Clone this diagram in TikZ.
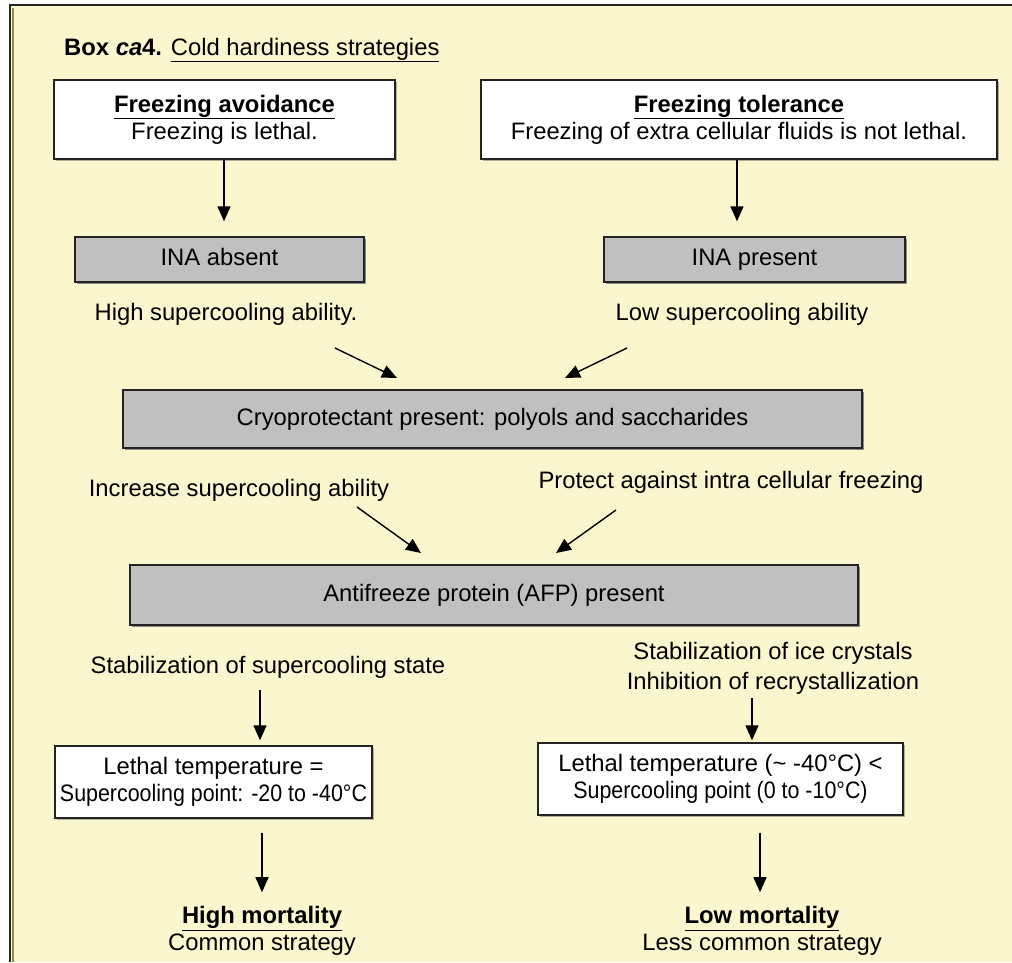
\documentclass[tikz,border=0pt]{standalone}
\usepackage{fontspec}
\setmainfont{Liberation Sans}
\newfontfamily\narrowsans[FakeStretch=0.9]{Liberation Sans}
\usetikzlibrary{arrows.meta, positioning, shadows}

\definecolor{paper}{RGB}{250,246,205}
\definecolor{boxgrey}{RGB}{192,192,192}
\definecolor{edge}{RGB}{35,35,35}

\begin{document}
\begin{tikzpicture}[
    x=1pt, y=-1pt,
    font=\fontsize{23.8}{27}\selectfont,
    >={Triangle[width=13pt,length=15pt]},
    % --- Style Definitions ---
    common/.style={
        rectangle, align=center, inner sep=0pt,
        draw=edge, line width=1.4pt
    },
    whitebox/.style={
        common, fill=white,
        drop shadow={opacity=0.6, shadow xshift=1.5pt, shadow yshift=-1.5pt}
    },
    greybox/.style={
        common, fill=boxgrey, text height=17pt, text depth=5pt,
        drop shadow={opacity=0.9, shadow xshift=1.5pt, shadow yshift=-2pt}
    },
    note/.style={align=center, inner sep=0pt},
    arrow/.style={->, line width=1.4pt, color=black}
]

% ================= Frame =================
\useasboundingbox (0,0) rectangle (1012,962);
\fill[paper] (10,5) rectangle (1012,962);
\draw[olive!45!gray, line width=2pt] (13,962) -- (13,8);
\draw[edge, line width=2.5pt] (10,962) -- (10,5) -- (1012,5);

\node[anchor=base west, inner sep=0pt] (title) at (64,55)
    {\textbf{Box \textit{ca}4.} \underline{Cold hardiness strategies}};

% ================= Strategies =================
\node[whitebox, minimum width=341pt, minimum height=79pt] (avoid) at (224.5,119.5)
    {\underline{\textbf{Freezing avoidance}}\\ Freezing is lethal.};
\node[whitebox, minimum width=516pt, minimum height=79pt] (toler) at (739,119.5)
    {\underline{\textbf{Freezing tolerance}}\\ Freezing of extra cellular fluids is not lethal.};

% ================= INA =================
\node[greybox, minimum width=289pt, minimum height=45pt] (inaabs) at (219.5,259.5) {INA absent};
\node[greybox, minimum width=301pt, minimum height=45pt] (inapres) at (754.5,259.5) {INA present};

\node[note] (highsc) at (226,314) {High supercooling ability.};
\node[note] (lowsc) at (742,314) {Low supercooling ability};

% ================= Cryoprotectant & AFP =================
\node[greybox, minimum width=739pt, minimum height=58pt] (cryo) at (492.5,419)
    {Cryoprotectant present: polyols and saccharides};

\node[note] (incsc) at (239,490) {Increase supercooling ability};
\node[note] (protect) at (731,482) {Protect against intra cellular freezing};

\node[greybox, minimum width=728pt, minimum height=60pt] (afp) at (494,595)
    {Antifreeze protein (AFP) present};

\node[note] (stabsc) at (268,667) {Stabilization of supercooling state};
\node[note, font=\fontsize{23.8}{30}\selectfont] (stabice) at (773,668)
    {Stabilization of ice crystals\\ Inhibition of recrystallization};

% ================= Lethal temperature =================
\node[whitebox, minimum width=317pt, minimum height=72pt] (lethlow) at (213.5,782)
    {Lethal temperature =\\ {\narrowsans Supercooling point: -20 to -40°C}};
\node[whitebox, minimum width=365pt, minimum height=72pt] (lethhigh) at (720.5,779)
    {Lethal temperature (\textasciitilde\ -40°C) <\\ {\narrowsans Supercooling point (0 to -10°C)}};

\node[note] (highmort) at (262,931) {\underline{\textbf{High mortality}}\\ Common strategy};
\node[note] (lowmort) at (762,931) {\underline{\textbf{Low mortality}}\\ Less common strategy};

% ================= Connection Logic =================
\draw[arrow, shorten >=15pt] (224,0 |- avoid.south) -- (224,0 |- inaabs.north);
\draw[arrow, shorten >=15pt] (737,0 |- toler.south) -- (737,0 |- inapres.north);

% floating arrows between the text labels
\coordinate (hs-a) at (335,348);  \coordinate (hs-b) at (397,378);
\coordinate (ls-a) at (627,348);  \coordinate (ls-b) at (565,378);
\coordinate (is-a) at (357,507);  \coordinate (is-b) at (421,553);
\coordinate (pr-a) at (616,510);  \coordinate (pr-b) at (556,553);
\draw[arrow] (hs-a) -- (hs-b);
\draw[arrow] (ls-a) -- (ls-b);
\draw[arrow] (is-a) -- (is-b);
\draw[arrow] (pr-a) -- (pr-b);

\draw[arrow, shorten <=12pt, shorten >=5pt] (260,0 |- stabsc.south) -- (260,0 |- lethlow.north);
\draw[arrow, shorten <=4pt, shorten >=2pt] (752,0 |- stabice.south) -- (752,0 |- lethhigh.north);
\draw[arrow, shorten <=14pt, shorten >=14pt] (262,0 |- lethlow.south) -- (262,0 |- highmort.north);
\draw[arrow, shorten <=17pt, shorten >=14pt] (760,0 |- lethhigh.south) -- (760,0 |- lowmort.north);

\end{tikzpicture}
\end{document}
